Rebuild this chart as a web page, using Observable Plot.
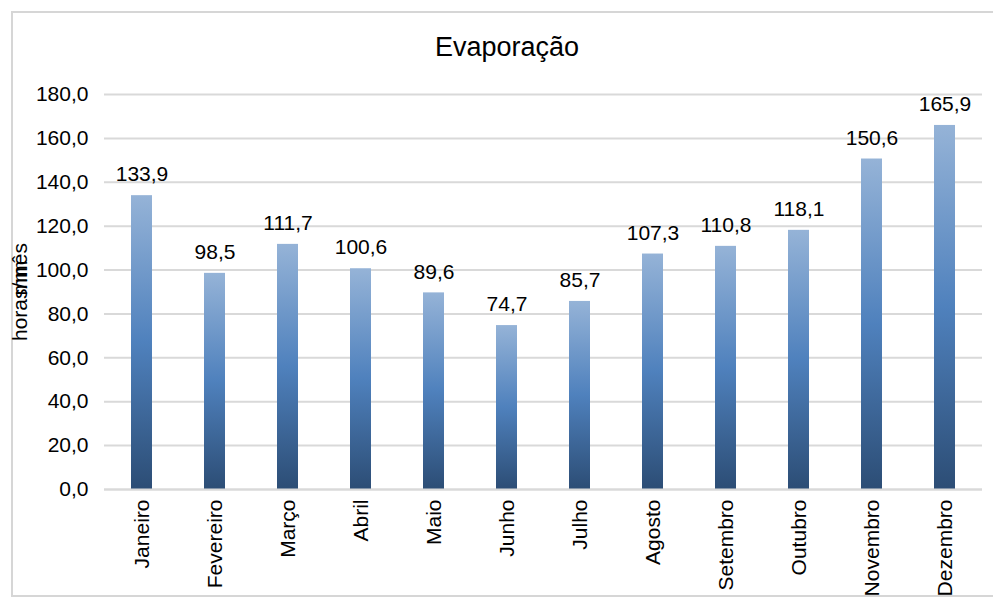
<!DOCTYPE html>
<html>
<head>
<meta charset="utf-8">
<script src="https://cdn.jsdelivr.net/npm/d3@7"></script>
<script src="https://cdn.jsdelivr.net/npm/@observablehq/plot@0.6"></script>
<style>
  html, body { margin: 0; padding: 0; background: #fff; }
  body { width: 993px; height: 601px; position: relative; overflow: hidden; font-family: "Liberation Sans", Arial, sans-serif; }
  #frame { position: absolute; left: 11px; top: 11px; width: 990px; height: 586px; border: 2px solid #d6d6d6; box-sizing: border-box; }
  #title { position: absolute; left: 12px; width: 990px; top: 30px; text-align: center; font-size: 27px; line-height: 34px; color: #000; }
  #chart { position: absolute; left: 0; top: 0; }
</style>
</head>
<body>
<div id="frame"></div>
<div id="title">Evaporação</div>
<div id="chart"></div>
<script>
const months = ["Janeiro", "Fevereiro", "Março", "Abril", "Maio", "Junho", "Julho", "Agosto", "Setembro", "Outubro", "Novembro", "Dezembro"];
const values = [133.9, 98.5, 111.7, 100.6, 89.6, 74.7, 85.7, 107.3, 110.8, 118.1, 150.6, 165.9];
const yTicks = [0, 20, 40, 60, 80, 100, 120, 140, 160, 180];
const yLabel = "horas/mês";
const yLabel2 = "mm";

const data = months.map((m, i) => ({month: m, value: values[i]}));
const fmt = d => d.toFixed(1).replace(".", ",");

const gradientDefs = () => {
  const defs = d3.create("svg:defs");
  const g = defs.append("linearGradient")
    .attr("id", "barGrad").attr("x1", 0).attr("y1", 0).attr("x2", 0).attr("y2", 1);
  g.append("stop").attr("offset", "0%").attr("stop-color", "#95b3d7");
  g.append("stop").attr("offset", "50%").attr("stop-color", "#4f81bd");
  g.append("stop").attr("offset", "100%").attr("stop-color", "#2c4d75");
  return defs.node();
};

const chart = Plot.plot({
  width: 993,
  height: 601,
  marginTop: 94,
  marginBottom: 112,
  marginLeft: 104,
  marginRight: 11,
  style: {fontFamily: "'Liberation Sans', Arial, sans-serif", fontSize: "21px", color: "#000", background: "transparent"},
  x: {domain: months, paddingInner: 0.713, paddingOuter: 0.3565, label: null},
  y: {domain: [0, 180], label: null},
  marks: [
    gradientDefs,
    Plot.gridY(yTicks, {stroke: "#d9d9d9", strokeOpacity: 1, strokeWidth: 2}),
    Plot.barY(data, {x: "month", y: "value", fill: "url(#barGrad)"}),
    Plot.ruleY([0], {stroke: "#d9d9d9", strokeWidth: 2}),
    Plot.axisY(yTicks, {tickSize: 0, tickPadding: 16, tickFormat: fmt, fontSize: 21, label: null}),
    Plot.axisX({tickSize: 0, tickPadding: 10, tickRotate: -90, fontSize: 21, label: null}),
    Plot.text(data, {x: "month", y: "value", text: d => fmt(d.value), dy: -21, fontSize: 21, fill: "#000"}),
    Plot.text([yLabel], {frameAnchor: "left", textAnchor: "middle", dx: -84, rotate: -90, fontSize: 21, fill: "#000"}),
    Plot.text([yLabel2], {frameAnchor: "left", textAnchor: "middle", dx: -84, dy: -14, rotate: -90, fontSize: 21, fill: "#000"})
  ]
});
document.getElementById("chart").appendChild(chart);
</script>
</body>
</html>
